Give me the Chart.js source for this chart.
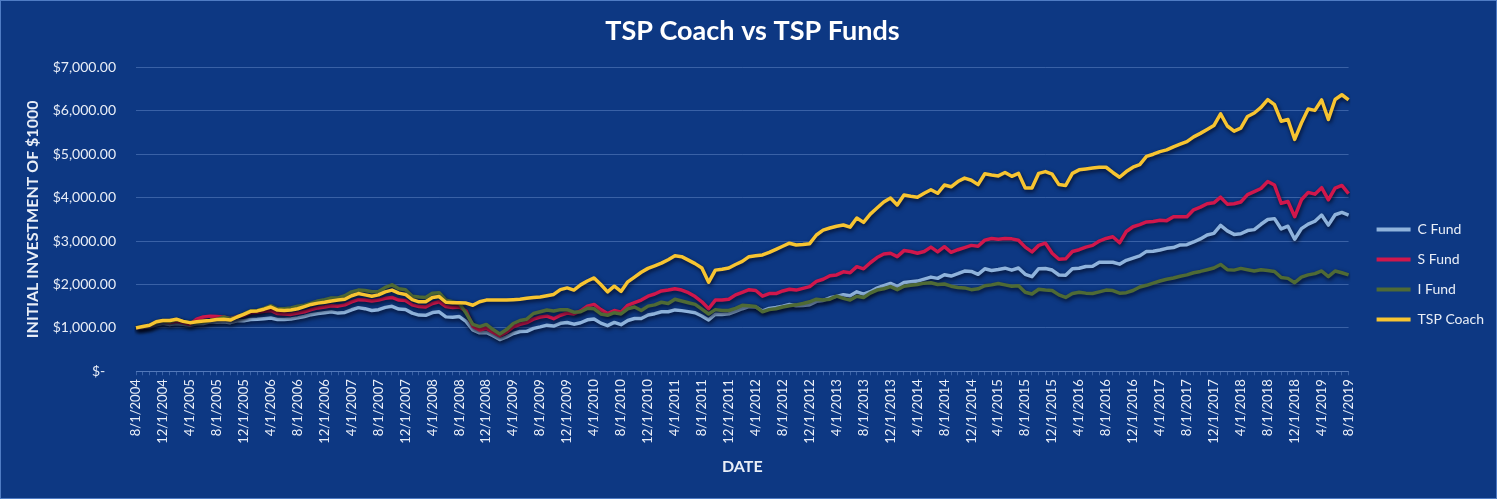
<!DOCTYPE html>
<html>
<head>
<meta charset="utf-8">
<script src="https://cdn.jsdelivr.net/npm/chart.js@4/dist/chart.umd.min.js"></script>
<style>
  html, body { margin: 0; padding: 0; background: #0d3883; }
  #wrap { width: 1497px; height: 499px; box-sizing: border-box; border: 1px solid #4f7cc4; position: relative; }
</style>
</head>
<body>
<div id="wrap"><canvas id="myChart"></canvas></div>
<script>
// monthly, 8/1/2004 .. 8/1/2019
const dates = [];
for (let y = 2004, m = 8; y < 2019 || (y === 2019 && m <= 8); m++) {
	if (m > 12) { m = 1; y++; }
	dates.push(m + '/1/' + y);
}

const cFund = [
	1000,1011,1027,1068,1105,1079,1101,1082,1062,1096,
	1098,1139,1128,1138,1120,1161,1162,1193,1196,1211,
	1228,1192,1195,1203,1230,1263,1304,1328,1347,1368,
	1340,1356,1417,1466,1442,1399,1419,1472,1497,1433,
	1423,1339,1294,1289,1352,1369,1253,1243,1260,1148,
	955,885,894,818,730,793,869,917,919,988,
	1023,1062,1042,1104,1125,1085,1118,1186,1206,1109,
	1051,1125,1074,1170,1215,1214,1295,1327,1371,1372,
	1414,1397,1374,1347,1273,1183,1313,1309,1322,1382,
	1441,1489,1480,1390,1447,1468,1499,1538,1510,1517,
	1531,1610,1631,1693,1726,1765,1741,1830,1776,1832,
	1917,1974,2024,1955,2043,2060,2077,2124,2169,2140,
	2224,2193,2248,2307,2301,2233,2360,2323,2346,2375,
	2329,2379,2234,2179,2364,2369,2332,2217,2212,2362,
	2372,2413,2419,2509,2511,2512,2467,2556,2607,2658,
	2761,2765,2795,2832,2850,2910,2917,2978,3049,3140,
	3176,3360,3234,3153,3167,3241,3263,3386,3495,3516,
	3278,3342,3041,3286,3389,3456,3598,3367,3606,3659,
	3599
];
const sFund = [
	1000,1010,1040,1120,1160,1120,1150,1120,1080,1200,
	1250,1270,1260,1250,1210,1260,1280,1350,1360,1380,
	1400,1330,1320,1310,1340,1370,1420,1460,1480,1510,
	1500,1530,1600,1650,1640,1620,1640,1680,1700,1640,
	1630,1530,1490,1480,1560,1600,1490,1470,1480,1390,
	1040,950,990,900,820,900,1020,1080,1120,1200,
	1250,1270,1210,1290,1340,1320,1390,1500,1540,1420,
	1330,1400,1360,1520,1580,1640,1730,1780,1850,1870,
	1900,1870,1810,1720,1600,1440,1640,1640,1660,1760,
	1820,1880,1860,1730,1790,1790,1850,1890,1870,1910,
	1950,2070,2120,2200,2220,2290,2270,2410,2360,2500,
	2620,2700,2720,2640,2780,2760,2720,2760,2860,2750,
	2870,2740,2800,2850,2900,2880,3020,3060,3040,3060,
	3050,3020,2860,2750,2900,2950,2720,2580,2590,2760,
	2800,2860,2900,3000,3060,3100,2960,3220,3330,3380,
	3440,3450,3480,3470,3560,3560,3560,3720,3780,3860,
	3880,4010,3850,3860,3900,4070,4140,4210,4370,4290,
	3870,3910,3560,3950,4120,4080,4230,3950,4220,4280,
	4090
];
const iFund = [
	1000,1020,1050,1120,1160,1140,1190,1150,1120,1120,
	1130,1170,1190,1250,1210,1250,1320,1390,1400,1450,
	1510,1440,1440,1460,1500,1520,1570,1620,1650,1690,
	1690,1740,1830,1870,1860,1830,1840,1930,1990,1900,
	1880,1730,1710,1700,1800,1810,1640,1600,1560,1340,
	1080,1030,1080,960,860,960,1100,1170,1200,1330,
	1370,1410,1390,1420,1420,1360,1370,1450,1440,1320,
	1290,1350,1320,1440,1480,1400,1500,1530,1590,1560,
	1660,1620,1580,1540,1430,1320,1420,1400,1400,1450,
	1520,1510,1490,1370,1420,1440,1480,1510,1530,1560,
	1600,1660,1640,1660,1730,1680,1640,1730,1700,1800,
	1870,1900,1950,1880,1960,1980,2000,2030,2040,2000,
	2010,1960,1930,1920,1880,1900,1970,1990,2020,1990,
	1960,1970,1820,1780,1890,1870,1860,1760,1700,1790,
	1820,1800,1790,1830,1870,1860,1800,1810,1860,1940,
	1980,2030,2080,2120,2150,2190,2220,2270,2300,2340,
	2380,2460,2340,2330,2370,2340,2310,2340,2320,2300,
	2160,2140,2040,2170,2220,2250,2310,2180,2310,2270,
	2220
];
const tspCoach = [
	1000,1030,1060,1140,1170,1170,1200,1150,1120,1140,
	1160,1170,1190,1200,1180,1250,1310,1380,1390,1430,
	1480,1410,1400,1410,1440,1490,1540,1570,1590,1620,
	1640,1660,1740,1790,1760,1730,1760,1830,1870,1800,
	1770,1650,1600,1600,1700,1720,1590,1580,1580,1570,
	1520,1600,1640,1640,1640,1640,1650,1660,1680,1700,
	1710,1740,1770,1880,1920,1870,1990,2080,2150,2000,
	1830,1960,1840,2060,2170,2280,2370,2430,2490,2570,
	2660,2640,2560,2480,2380,2050,2330,2350,2380,2460,
	2530,2640,2660,2680,2740,2810,2880,2950,2910,2920,
	2940,3140,3250,3300,3340,3370,3320,3530,3430,3620,
	3760,3900,3990,3830,4060,4030,4010,4100,4180,4100,
	4290,4250,4370,4450,4400,4300,4550,4520,4500,4580,
	4490,4560,4220,4220,4560,4600,4540,4300,4280,4560,
	4640,4660,4680,4700,4700,4580,4470,4600,4700,4760,
	4950,5000,5060,5100,5170,5230,5290,5400,5480,5570,
	5660,5930,5650,5530,5600,5870,5950,6080,6260,6140,
	5760,5800,5340,5720,6040,6010,6250,5800,6260,6370,
	6250
];

const seriesNames = ['C Fund', 'S Fund', 'I Fund', 'TSP Coach'];
const seriesColors = ['#8fb3dc', '#d0174c', '#4f6a35', '#f7c431'];
const seriesData = [cFund, sFund, iFund, tspCoach];
const drawOrder = [3, 2, 1, 0];

const font = 'Lato, "Open Sans", sans-serif';
const textColor = '#e9eef7';
const gridColor = 'rgba(120,155,215,0.42)';

// dark drop shadow under the lines, like the original
const lineShadow = {
	id: 'lineShadow',
	beforeDatasetsDraw(chart) {
		const c = chart.ctx;
		c.save();
		c.shadowColor = 'rgba(0,0,15,0.75)';
		c.shadowBlur = 4;
		c.shadowOffsetX = 1;
		c.shadowOffsetY = 2;
	},
	afterDatasetsDraw(chart) {
		chart.ctx.restore();
	}
};

// push the legend a bit away from the plot and lower, as in the original
const legendShift = {
	id: 'legendShift',
	afterLayout(chart) {
		const lg = chart.legend;
		const dx = chart.chartArea.right + 28 - (lg.left + lg.options.labels.padding);
		lg.left += dx; lg.right += dx;
		lg.top += 36; lg.bottom += 36;
	}
};

let ctx = document.getElementById('myChart');

let chart = new Chart(ctx, {
	type: 'line',
	data: {
		labels: dates,
		datasets: seriesNames.map((name, i) => ({
			label: name,
			data: seriesData[i],
			borderColor: seriesColors[i],
			backgroundColor: seriesColors[i],
			borderWidth: 3.5,
			pointRadius: 0,
			tension: 0,
			borderJoinStyle: 'round',
			order: drawOrder[i]
		}))
	},
	plugins: [lineShadow, legendShift],
	options: {
		responsive: true,
		maintainAspectRatio: false,
		animation: false,
		layout: { padding: { left: 22, right: 14, top: 0, bottom: 22 } },
		plugins: {
			title: {
				display: true,
				text: 'TSP Coach vs TSP Funds',
				color: '#ffffff',
				font: { family: font, size: 27, weight: 'bold' },
				padding: { top: 14, bottom: 20 }
			},
			legend: {
				position: 'right',
				labels: {
					color: textColor,
					font: { family: font, size: 14 },
					boxWidth: 34,
					boxHeight: 4,
					padding: 16,
					sort: (a, b) => a.datasetIndex - b.datasetIndex,
					generateLabels: (ch) => Chart.defaults.plugins.legend.labels.generateLabels(ch)
						.map(l => Object.assign(l, { lineWidth: 0 }))
				}
			},
			tooltip: { enabled: false }
		},
		scales: {
			x: {
				grid: { display: true, drawOnChartArea: false, drawTicks: true, tickLength: 4, color: gridColor },
				border: { display: true, color: gridColor },
				ticks: {
					autoSkip: false,
					maxRotation: 90,
					minRotation: 90,
					color: textColor,
					font: { family: font, size: 13 },
					padding: 4,
					callback: function(v, i) { return i % 4 === 0 ? this.getLabelForValue(v) : ''; }
				},
				title: {
					display: true,
					text: 'DATE',
					color: textColor,
					font: { family: font, size: 16, weight: 'bold' },
					padding: { top: 9, bottom: 0 }
				}
			},
			y: {
				min: 0,
				max: 7000,
				afterFit: (scale) => { scale.width = 113; },
				grid: { color: gridColor, drawTicks: false },
				border: { display: false },
				ticks: {
					stepSize: 1000,
					color: textColor,
					font: { family: font, size: 14 },
					padding: 20,
					callback: (v) => v === 0 ? '$-   ' : '$' + v.toLocaleString('en-US', { minimumFractionDigits: 2 })
				},
				title: {
					display: true,
					text: 'INITIAL INVESTMENT OF $1000',
					color: textColor,
					font: { family: font, size: 16, weight: 'bold' },
					padding: { top: 0, bottom: 10 }
				}
			}
		}
	}
});
</script>
</body>
</html>
